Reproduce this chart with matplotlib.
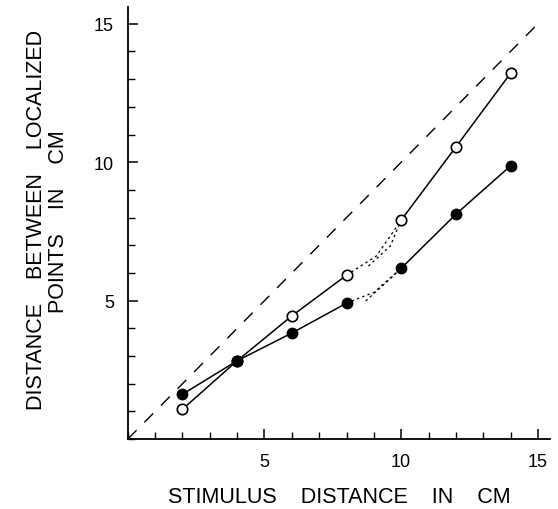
import matplotlib.pyplot as plt
from matplotlib.ticker import MultipleLocator

plt.rcParams['font.family'] = ['Liberation Sans', 'DejaVu Sans']

# stimulus distance (cm)
x = [2, 4, 6, 8, 10, 12, 14]
# open circles
open_y = [1.08, 2.83, 4.45, 5.92, 7.91, 10.55, 13.21]
# filled circles
filled_y = [1.62, 2.83, 3.83, 4.91, 6.17, 8.12, 9.87]

# dotted stretch between 8 and 10 cm (two strands each)
open_gap_a_x = [8, 9.1, 10]
open_gap_a_y = [5.92, 6.62, 7.91]
open_gap_b_x = [8.8, 9.6, 10]
open_gap_b_y = [6.25, 6.97, 7.91]
filled_gap_a_x = [8, 9.0, 10]
filled_gap_a_y = [4.91, 5.3, 6.17]
filled_gap_b_x = [8.7, 9.5, 10]
filled_gap_b_y = [4.99, 5.7, 6.17]

# unity line
diag = [0, 15]

fig = plt.figure(figsize=(5.58, 5.10), dpi=100)
ax = fig.add_axes([0.229, 0.137, 0.757, 0.847])

ax.plot(diag, diag, color='black', lw=1.0, linestyle=(0, (9, 8)))

# solid segments (8 -> 10 is dotted)
ax.plot(x[:4], open_y[:4], color='black', lw=1.1, zorder=2)
ax.plot(x[4:], open_y[4:], color='black', lw=1.1, zorder=2)
ax.plot(x[:4], filled_y[:4], color='black', lw=1.1, zorder=2)
ax.plot(x[4:], filled_y[4:], color='black', lw=1.1, zorder=2)

for gx, gy in [(open_gap_a_x, open_gap_a_y), (open_gap_b_x, open_gap_b_y),
               (filled_gap_a_x, filled_gap_a_y), (filled_gap_b_x, filled_gap_b_y)]:
    ax.plot(gx, gy, color='black', lw=0.9, linestyle=(0, (2, 2.5)), zorder=2)

ax.plot(x, open_y, 'o', mfc='white', mec='black', mew=1.2, ms=7.5, zorder=3)
ax.plot(x, filled_y, 'o', mfc='black', mec='black', ms=7.5, zorder=3)

ax.set_xlim(0, 15.45)
ax.set_ylim(0, 15.6)
ax.spines['top'].set_visible(False)
ax.spines['right'].set_visible(False)
ax.spines['left'].set_linewidth(1.3)
ax.spines['bottom'].set_linewidth(1.3)

ax.xaxis.set_minor_locator(MultipleLocator(1))
ax.yaxis.set_minor_locator(MultipleLocator(1))
ax.set_xticks([5, 10, 15])
ax.set_yticks([5, 10, 15])
ax.set_xticklabels(['5', '10', '15'])
ax.set_yticklabels(['5', '10', '15'])
ax.tick_params(which='major', direction='in', length=7, width=1.1,
               labelsize=13, pad=10)
ax.tick_params(which='minor', direction='in', length=5, width=1.0)

fig.text(0.608, 0.024, 'STIMULUS    DISTANCE    IN    CM',
         ha='center', va='center', fontsize=15.5)
fig.text(0.066, 0.569, 'DISTANCE    BETWEEN    LOCALIZED',
         ha='center', va='center', rotation=90, fontsize=15.5)
fig.text(0.105, 0.565, 'POINTS    IN    CM',
         ha='center', va='center', rotation=90, fontsize=15.5)

fig.savefig('out.png', dpi=100)
